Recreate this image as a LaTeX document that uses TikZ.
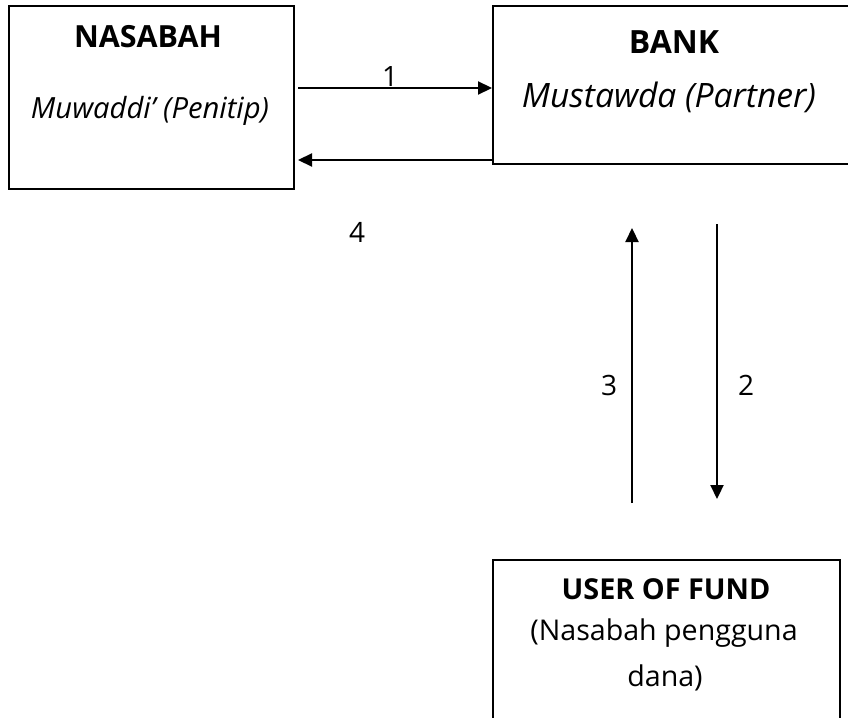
\documentclass[tikz,border=0pt]{standalone}
\usepackage{fontspec}
\setmainfont{Open Sans}
\usetikzlibrary{arrows.meta}
\begin{document}
\begin{tikzpicture}[x=1pt,y=-1pt,
  box/.style={draw=black,line width=2pt,inner sep=0pt,anchor=north west},
  txt/.style={anchor=base,inner sep=0pt},
  conn/.style={line width=2.2pt,-{Triangle[length=14pt,width=13pt]}},
  num/.style={anchor=base,inner sep=0pt,font=\fontsize{28}{30}\selectfont}]
\useasboundingbox (0,0) rectangle (848,717);
\clip (0,0) rectangle (848,717);
% boxes
\node[box,minimum width=285pt,minimum height=183pt] (nas) at (8,5) {};
\node[box,minimum width=362pt,minimum height=158pt] (bank) at (492,5) {};
\node[box,minimum width=347pt,minimum height=170pt] (user) at (492,559) {};
% texts
\node[txt,font=\fontsize{30.5}{34}\selectfont\bfseries] (t1) at (148,48) {NASABAH};
\node[txt,font=\fontsize{29.2}{32}\selectfont\itshape] (t2) at (150,118) {Muwaddi’ (Penitip)};
\node[txt,font=\fontsize{32}{38}\selectfont\bfseries] (t3) at (674,53) {BANK};
\node[txt,font=\fontsize{33.6}{36}\selectfont\itshape] (t4) at (669,107) {Mustawda (Partner)};
\node[txt,font=\fontsize{28.8}{32}\selectfont\bfseries] (t5) at (666,599) {USER OF FUND};
\node[txt,font=\fontsize{28.6}{32}\selectfont] (t6) at (664,640) {(Nasabah pengguna};
\node[txt,font=\fontsize{28.6}{32}\selectfont] (t7) at (665,686) {dana)};
% connectors
\coordinate (a3s) at (632,503);
\coordinate (a3e) at (632,228);
\coordinate (a2s) at (717,224);
\coordinate (a2e) at (717,499);
\draw[conn] ([xshift=3pt]nas.east |- 0,88) -- (bank.west |- 0,88);
\draw[conn] (bank.west |- 0,160) -- ([xshift=3pt]nas.east |- 0,160);
\draw[conn] (a3s) -- (a3e);
\draw[conn] (a2s) -- (a2e);
% labels
\node[num] (n1) at (390,86) {1};
\node[num] (n4) at (357,242) {4};
\node[num] (n3) at (609,395) {3};
\node[num] (n2) at (746,395) {2};
\end{tikzpicture}
\end{document}
